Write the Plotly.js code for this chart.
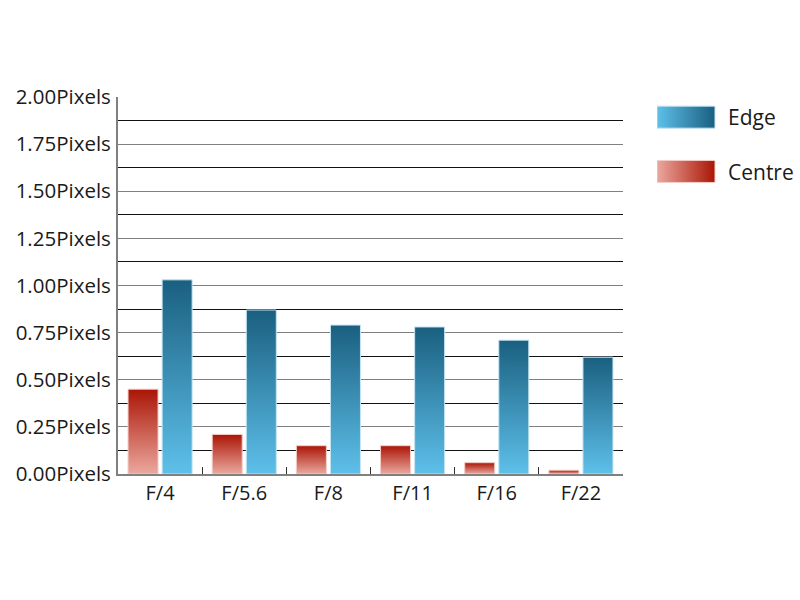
<!DOCTYPE html>
<html>
<head>
<meta charset="utf-8">
<script src="https://cdn.plot.ly/plotly-3.0.1.min.js"></script>
<style>html,body{margin:0;padding:0;background:#fff;}#chart{width:800px;height:600px;}</style>
</head>
<body>
<div id="chart"></div>
<script>
var categories = ["F/4", "F/5.6", "F/8", "F/11", "F/16", "F/22"];
var centreValues = [0.45, 0.21, 0.15, 0.15, 0.06, 0.02];
var edgeValues = [1.03, 0.87, 0.79, 0.78, 0.71, 0.62];
var seriesNames = ["Centre", "Edge"];

var FONT = '"Open Sans", "Liberation Sans", sans-serif';

var traces = [
  {
    type: 'bar', name: seriesNames[0], x: categories, y: centreValues,
    marker: {color: '#c8574a', line: {color: '#f3cdc7', width: 1}},
    legendgroup: 'c', legendrank: 2, hoverinfo: 'skip'
  },
  {
    type: 'bar', name: seriesNames[1], x: categories, y: edgeValues,
    marker: {color: '#3a8fb8', line: {color: '#c4e4f2', width: 1}},
    legendgroup: 'e', legendrank: 1, hoverinfo: 'skip'
  }
];

var layout = {
  width: 800, height: 600,
  margin: {l: 118, r: 177, t: 97, b: 126, pad: 0, autoexpand: false},
  paper_bgcolor: '#ffffff', plot_bgcolor: '#ffffff',
  barmode: 'group', bargap: 0.19, bargroupgap: 0.12,
  font: {family: FONT, size: 20, color: '#1a1a1a'},
  showlegend: true,
  legend: {
    x: 1.0673, xanchor: 'left', y: 1.0, yanchor: 'top',
    traceorder: 'grouped', tracegroupgap: 24,
    itemwidth: 60, font: {family: FONT, size: 21, color: '#1a1a1a'},
    bgcolor: 'rgba(0,0,0,0)', borderwidth: 0
  },
  xaxis: {
    type: 'category', showgrid: false, zeroline: false,
    showline: true, linecolor: '#808080', linewidth: 2,
    ticks: 'inside', tickson: 'boundaries', ticklen: 7, tickcolor: '#333333', tickwidth: 1,
    tickfont: {family: FONT, size: 20, color: '#1a1a1a'}
  },
  yaxis: {
    range: [0, 2], dtick: 0.25, tick0: 0, tickformat: '.2f', ticksuffix: 'Pixels',
    showgrid: true, gridcolor: '#808080', gridwidth: 1,
    minor: {dtick: 0.125, tick0: 0, showgrid: true, gridcolor: '#111111', gridwidth: 1, ticks: ''},
    zeroline: false, showline: true, linecolor: '#808080', linewidth: 2,
    ticks: '', ticklabelstandoff: 1,
    tickfont: {family: FONT, size: 20.5, color: '#1a1a1a'}
  }
};

function addGradients(gd) {
  var svg = gd.querySelector('svg.main-svg');
  var ns = 'http://www.w3.org/2000/svg';
  var defs = svg.querySelector('defs');
  if (!defs) { defs = document.createElementNS(ns, 'defs'); svg.insertBefore(defs, svg.firstChild); }
  function grad(id, vertical, c1, c2) {
    var g = document.createElementNS(ns, 'linearGradient');
    g.setAttribute('id', id);
    g.setAttribute('x1', '0'); g.setAttribute('y1', '0');
    g.setAttribute('x2', vertical ? '0' : '1'); g.setAttribute('y2', vertical ? '1' : '0');
    var s1 = document.createElementNS(ns, 'stop'); s1.setAttribute('offset', '0'); s1.setAttribute('stop-color', c1);
    var s2 = document.createElementNS(ns, 'stop'); s2.setAttribute('offset', '1'); s2.setAttribute('stop-color', c2);
    g.appendChild(s1); g.appendChild(s2); defs.appendChild(g);
  }
  grad('gEdgeV', true, '#1a5f80', '#5ec0ea');
  grad('gCentreV', true, '#aa1505', '#eba89e');
  grad('gEdgeH', false, '#5ec0ea', '#1a5f80');
  grad('gCentreH', false, '#eba89e', '#aa1505');

  var barTraces = gd.querySelectorAll('.barlayer .trace.bars');
  barTraces.forEach(function (t, i) {
    var id = i === 0 ? 'gCentreV' : 'gEdgeV';
    t.querySelectorAll('.point path').forEach(function (p) { p.style.fill = 'url(#' + id + ')'; });
  });

  gd.querySelectorAll('.legend .traces').forEach(function (item) {
    var txt = item.querySelector('.legendtext');
    var name = txt ? txt.textContent : '';
    var path = item.querySelector('.legendpoints path');
    if (path) {
      path.removeAttribute('transform');
      path.setAttribute('d', 'M0,-11H58V11H0Z');
      path.style.fill = 'url(#' + (name === 'Edge' ? 'gEdgeH' : 'gCentreH') + ')';
      path.style.stroke = name === 'Edge' ? '#c4e4f2' : '#f3cdc7';
      path.style.strokeWidth = '1px';
    }
    if (txt) txt.setAttribute('x', '71');
  });
}

Plotly.newPlot('chart', traces, layout, {staticPlot: true, displayModeBar: false}).then(addGradients);
</script>
</body>
</html>
